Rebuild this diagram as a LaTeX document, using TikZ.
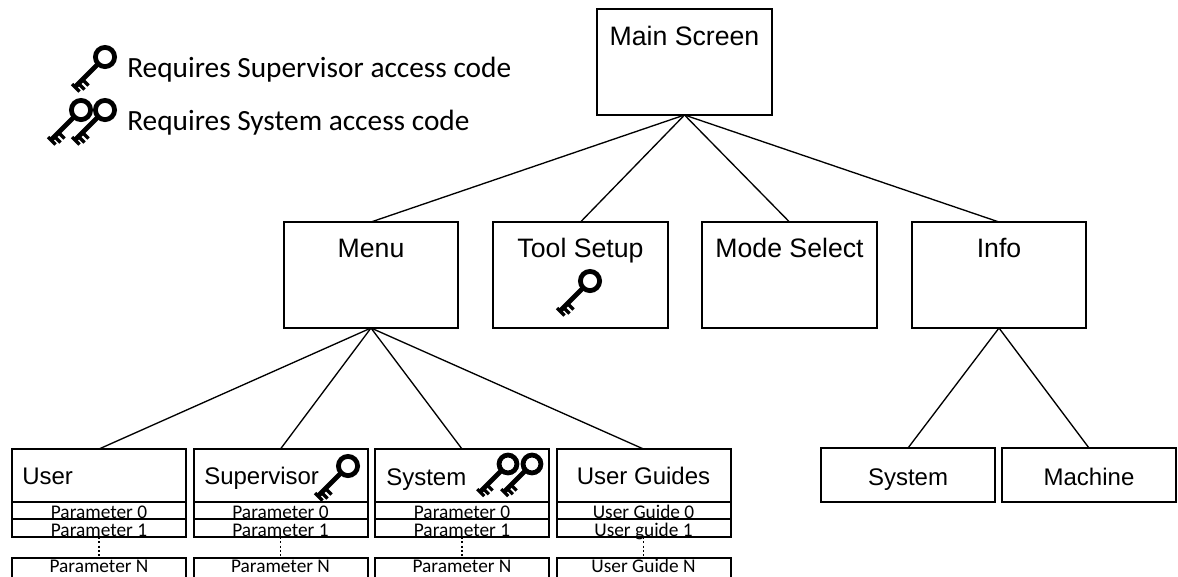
\documentclass[tikz,border=0pt]{standalone}
\usepackage{fontspec}
\setmainfont{Liberation Sans}
\newfontfamily\calib{Carlito}
\begin{document}
\begin{tikzpicture}[x=0.75pt,y=-0.75pt]
\tikzset{
  bx/.style 2 args={draw, line width=1.5pt, rectangle, inner sep=0pt, outer sep=0pt,
    minimum width=#1*0.75pt, minimum height=#2*0.75pt},
  conn/.style={line width=1pt},
  dotline/.style={line width=1pt, dash pattern=on 1.6pt off 1.6pt},
  bigtxt/.style={inner sep=0pt, anchor=base, font=\fontsize{20}{24}\selectfont},
  midtxt/.style={inner sep=0pt, anchor=base, font=\fontsize{18}{22}\selectfont},
  partxt/.style={inner sep=0pt, anchor=base, font=\calib\fontsize{14.5}{17}\selectfont},
  legtxt/.style={inner sep=0pt, anchor=base west, font=\calib\fontsize{22}{26}\selectfont},
  keyicon/.pic={
    \draw[line width=3.6pt] (0,0) circle[radius=7.2pt];
    \draw[line width=3.5pt] (-7.5,7.5) -- (-30,30);
    \draw[line width=2.4pt] (-33,27) -- (-25.5,34.5);
    \draw[line width=2.4pt] (-26.5,26.5) -- (-20.5,32.5);
    \draw[line width=2.4pt] (-22.5,22.5) -- (-16.5,28.5);
  }
}
\useasboundingbox (0,0) rectangle (1178,576);

% legend
\pic at (105,57) {keyicon};
\node[legtxt] (leg1) at (127,77) {Requires Supervisor access code};
\pic at (81,110) {keyicon};
\pic at (105,110) {keyicon};
\node[legtxt] (leg2) at (127,130) {Requires System access code};

% top
\node[bx={175}{106}] (main) at (684.5,62) {};
\node[bigtxt] (mainT) at (684.5,45) {Main Screen};

% level 2
\node[bx={174}{106}] (menu) at (371,275) {};
\node[bx={175}{106}] (tool) at (580.5,275) {};
\node[bx={175}{106}] (mode) at (789.5,275) {};
\node[bx={174}{106}] (info) at (999,275) {};
\node[bigtxt] (menuT) at (371,257) {Menu};
\node[bigtxt] (toolT) at (580.5,257) {Tool Setup};
\node[bigtxt] (modeT) at (789.5,257) {Mode Select};
\node[bigtxt] (infoT) at (999,257) {Info};
\pic at (590,281) {keyicon};

\draw[conn] (main.south) -- (menu.north);
\draw[conn] (main.south) -- (tool.north);
\draw[conn] (main.south) -- (mode.north);
\draw[conn] (main.south) -- (info.north);

% menu children
\foreach \nm/\cx in {user/99, sup/280.5, sys/462, ug/643.5}{
  \node[bx={174}{53}] (\nm) at (\cx,475.5) {};
  \node[bx={174}{17}] (\nm0) at (\cx,510.5) {};
  \node[bx={174}{18}] (\nm1) at (\cx,528) {};
  \node[bx={174}{20}] (\nm N) at (\cx,568) {};
  \draw[dotline] (\nm1.south) -- (\nm N.north);
  \draw[conn] (menu.south) -- (\nm.north);
}
\node[midtxt, anchor=base west] (userT) at (22,484) {User};
\node[midtxt, anchor=base west] (supT) at (204,484) {Supervisor};
\node[midtxt, anchor=base west] (sysT) at (386,485) {System};
\node[midtxt] (ugT) at (643.5,484) {User Guides};
\pic at (348,466) {keyicon};
\pic[scale=0.93] at (508,464) {keyicon};
\pic[scale=0.93] at (532,464) {keyicon};

\foreach \nm/\cx in {user/99, sup/280.5, sys/462}{
  \node[partxt] at (\cx,518.5) {Parameter 0};
  \node[partxt] at (\cx,536) {Parameter 1};
  \node[partxt] at (\cx,572.5) {Parameter N};
}
\node[partxt] (ug0T) at (643.5,518.5) {User Guide 0};
\node[partxt] (ug1T) at (643.5,536) {User guide 1};
\node[partxt] (ugNT) at (643.5,572.5) {User Guide N};

% info children
\node[bx={174}{54}] (isys) at (908,475) {};
\node[bx={174}{54}] (imach) at (1089,475) {};
\node[midtxt] (isysT) at (908,485) {System};
\node[midtxt] (imachT) at (1089,485) {Machine};
\draw[conn] (info.south) -- (isys.north);
\draw[conn] (info.south) -- (imach.north);
\end{tikzpicture}
\end{document}
